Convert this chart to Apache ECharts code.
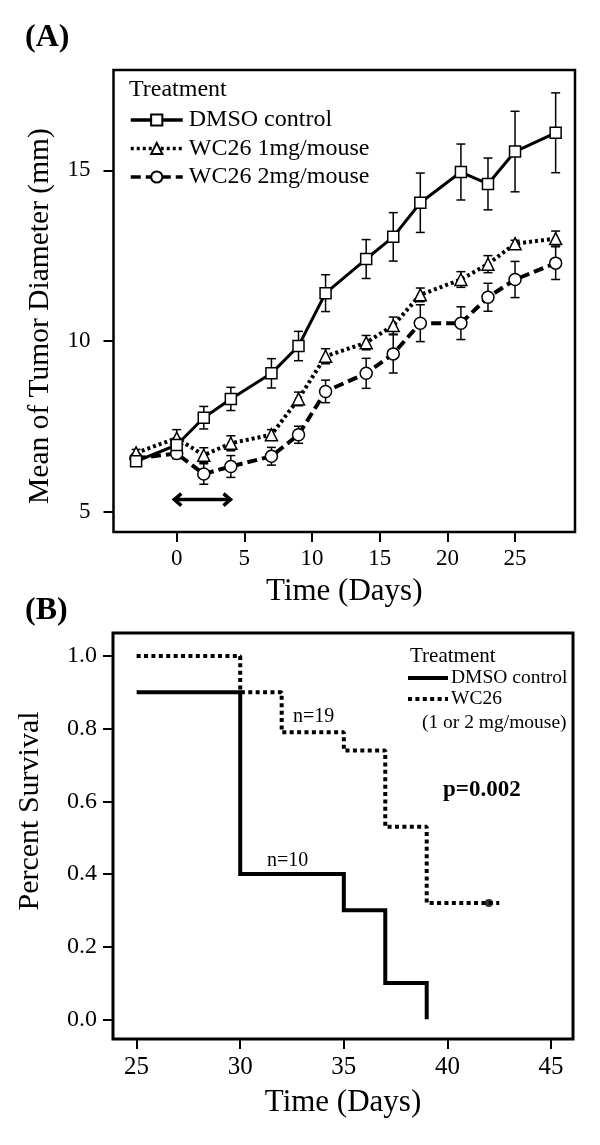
<!DOCTYPE html>
<html>
<head>
<meta charset="utf-8">
<script src="https://cdn.jsdelivr.net/npm/echarts@6/dist/echarts.min.js"></script>
<style>
  html, body { margin: 0; padding: 0; background: #fff; }
  #chart { width: 600px; height: 1145px; }
</style>
</head>
<body>
<div id="chart"></div>
<script>
// (A) tumour diameter, mean and error per measuring day
const days = [-3, 0, 2, 4, 7, 9, 11, 14, 16, 18, 21, 23, 25, 28]
const dmsoMean = [6.47, 6.95, 7.75, 8.3, 9.05, 9.85, 11.4, 12.4, 13.05, 14.05, 14.95, 14.6, 15.55, 16.1]
const dmsoErr = [0.1, 0.2, 0.33, 0.34, 0.43, 0.43, 0.54, 0.57, 0.71, 0.87, 0.82, 0.76, 1.18, 1.17]
const wc1Mean = [6.72, 7.15, 6.65, 7.0, 7.25, 8.3, 9.55, 9.95, 10.45, 11.35, 11.8, 12.25, 12.85, 13.0]
const wc1Err = [0.1, 0.25, 0.22, 0.22, 0.15, 0.2, 0.22, 0.21, 0.25, 0.2, 0.23, 0.25, 0.1, 0.22]
const wc2Mean = [6.56, 6.7, 6.1, 6.32, 6.62, 7.25, 8.52, 9.05, 9.62, 10.52, 10.52, 11.28, 11.8, 12.28]
const wc2Err = [0.1, 0.15, 0.3, 0.32, 0.26, 0.25, 0.33, 0.44, 0.56, 0.54, 0.48, 0.41, 0.53, 0.48]
const treatArrow = [-0.25, 4.05, 5.35] // start day, end day, height
const xTicksA = [0, 5, 10, 15, 20, 25]
const yTicksA = [5, 10, 15]

// (B) survival steps
const survDaysDmso = [25, 30, 35, 37, 39]
const survDmso = [0.9, 0.4, 0.3, 0.1, 0.0]
const survDaysWc = [25, 30, 32, 35, 37, 39, 42.5]
const survWc = [1.0, 0.9, 0.79, 0.74, 0.53, 0.32, 0.32]
const censorWc = [[42, 0.32]]
const xTicksB = [25, 30, 35, 40, 45]
const yTicksB = [0.0, 0.2, 0.4, 0.6, 0.8, 1.0]

const FONT = 'Liberation Serif'
const chart = echarts.init(document.getElementById('chart'), null, { renderer: 'canvas' })

function pairs (xs, ys) {
  return xs.map((x, i) => [x, ys[i]])
}
function bars (mean, err) {
  return days.map((d, i) => [d, mean[i] - err[i], mean[i] + err[i]])
}

// 误差线：竖线 + 上下短横
function errorBarItem (params, api) {
  const x = api.value(0)
  const lo = api.coord([x, api.value(1)])
  const hi = api.coord([x, api.value(2)])
  const w = 4.5
  const st = { stroke: '#000', lineWidth: 1.5 }
  return {
    type: 'group',
    children: [
      { type: 'line', shape: { x1: lo[0], y1: lo[1], x2: hi[0], y2: hi[1] }, style: st },
      { type: 'line', shape: { x1: lo[0] - w, y1: lo[1], x2: lo[0] + w, y2: lo[1] }, style: st },
      { type: 'line', shape: { x1: hi[0] - w, y1: hi[1], x2: hi[0] + w, y2: hi[1] }, style: st }
    ]
  }
}

function arrowItem (params, api) {
  const a = api.coord([api.value(0), api.value(2)])
  const b = api.coord([api.value(1), api.value(2)])
  const st = { stroke: '#000', lineWidth: 3.5, fill: null, lineJoin: 'miter' }
  return {
    type: 'group',
    children: [
      { type: 'line', shape: { x1: a[0] + 1, y1: a[1], x2: b[0] - 1, y2: b[1] }, style: st },
      { type: 'polyline', shape: { points: [[a[0] + 8, a[1] - 6], [a[0] + 1, a[1]], [a[0] + 8, a[1] + 6]] }, style: st },
      { type: 'polyline', shape: { points: [[b[0] - 8, b[1] - 6], [b[0] - 1, b[1]], [b[0] - 8, b[1] + 6]] }, style: st }
    ]
  }
}

const tickStyle = { show: true, length: 10, inside: false, lineStyle: { color: '#000', width: 2 } }
const hiddenLine = { show: false, onZero: false }
const markerStyle = { color: '#fff', borderColor: '#000', borderWidth: 1.5 }

const options = {
  animation: false,
  backgroundColor: '#fff',
  textStyle: { fontFamily: FONT, color: '#000' },
  grid: [
    { left: 113.5, right: 25, top: 70, bottom: 613, show: true, borderColor: '#000', borderWidth: 2.5, backgroundColor: 'transparent' },
    { left: 113, right: 27, top: 633, bottom: 106, show: true, borderColor: '#000', borderWidth: 3, backgroundColor: 'transparent' }
  ],
  xAxis: [
    {
      type: 'value', gridIndex: 0, min: -4.67, max: 29.43,
      axisLine: hiddenLine, splitLine: { show: false },
      axisTick: Object.assign({ customValues: xTicksA }, tickStyle),
      axisLabel: { customValues: xTicksA, fontFamily: FONT, fontSize: 23, color: '#000', margin: 15 },
      name: 'Time (Days)', nameLocation: 'middle', nameGap: 44,
      nameTextStyle: { fontFamily: FONT, fontSize: 31, color: '#000' }
    },
    {
      type: 'value', gridIndex: 1, min: 23.86, max: 46.06,
      axisLine: hiddenLine, splitLine: { show: false },
      axisTick: Object.assign({ customValues: xTicksB }, tickStyle),
      axisLabel: { customValues: xTicksB, fontFamily: FONT, fontSize: 25, color: '#000', margin: 16 },
      name: 'Time (Days)', nameLocation: 'middle', nameGap: 48,
      nameTextStyle: { fontFamily: FONT, fontSize: 31, color: '#000' }
    }
  ],
  yAxis: [
    {
      type: 'value', gridIndex: 0, min: 4.4, max: 17.94,
      axisLine: hiddenLine, splitLine: { show: false },
      axisTick: Object.assign({ customValues: yTicksA }, tickStyle),
      axisLabel: { customValues: yTicksA, fontFamily: FONT, fontSize: 23, color: '#000', margin: 23 },
      name: 'Mean of Tumor Diameter (mm)', nameLocation: 'middle', nameGap: 58,
      nameTextStyle: { fontFamily: FONT, fontSize: 29.5, color: '#000', padding: [0, 30, 0, 0] }
    },
    {
      type: 'value', gridIndex: 1, min: -0.054, max: 1.063,
      axisLine: hiddenLine, splitLine: { show: false },
      axisTick: Object.assign({ customValues: yTicksB }, tickStyle),
      axisLabel: {
        customValues: yTicksB, fontFamily: FONT, fontSize: 24, color: '#000', margin: 16,
        formatter: v => v.toFixed(1)
      },
      name: 'Percent Survival', nameLocation: 'middle', nameGap: 68,
      nameTextStyle: { fontFamily: FONT, fontSize: 30, color: '#000', padding: [0, 0, 0, 50] }
    }
  ],
  legend: [
    {
      orient: 'vertical', left: 124, top: 103, itemWidth: 52, itemHeight: 14, itemGap: 4.5,
      lineStyle: { width: 3.5 },
      textStyle: { fontFamily: FONT, fontSize: 24, color: '#000', padding: [0, 0, 0, 1] },
      data: ['DMSO control', 'WC26 1mg/mouse', 'WC26 2mg/mouse']
    },
    {
      orient: 'vertical', left: 401, top: 663, itemWidth: 40, itemHeight: 10, itemGap: 1,
      lineStyle: { width: 4 }, itemStyle: { opacity: 0 },
      textStyle: { fontFamily: FONT, fontSize: 19.5, color: '#000', padding: [0, 0, 0, -2] },
      data: ['DMSO control ', 'WC26']
    }
  ],
  graphic: [
    { type: 'text', left: 25, top: 22, style: { text: '(A)', font: 'bold 32px "Liberation Serif"', fill: '#000' } },
    { type: 'text', left: 25, top: 595, style: { text: '(B)', font: 'bold 32px "Liberation Serif"', fill: '#000' } },
    { type: 'text', left: 129, top: 78, style: { text: 'Treatment', font: '24px "Liberation Serif"', fill: '#000' } },
    { type: 'text', left: 410, top: 646, style: { text: 'Treatment', font: '21px "Liberation Serif"', fill: '#000' } },
    { type: 'text', left: 422, top: 713, style: { text: '(1 or 2 mg/mouse)', font: '19.5px "Liberation Serif"', fill: '#000' } },
    { type: 'text', left: 293, top: 707, style: { text: 'n=19', font: '20px "Liberation Serif"', fill: '#000' } },
    { type: 'text', left: 267, top: 851, style: { text: 'n=10', font: '20px "Liberation Serif"', fill: '#000' } },
    { type: 'text', left: 443, top: 779, style: { text: 'p=0.002', font: 'bold 23px "Liberation Serif"', fill: '#000' } }
  ],
  series: [
    { type: 'custom', name: 'errDmso', xAxisIndex: 0, yAxisIndex: 0, renderItem: errorBarItem, data: bars(dmsoMean, dmsoErr), z: 1 },
    { type: 'custom', name: 'errWc1', xAxisIndex: 0, yAxisIndex: 0, renderItem: errorBarItem, data: bars(wc1Mean, wc1Err), z: 1 },
    { type: 'custom', name: 'errWc2', xAxisIndex: 0, yAxisIndex: 0, renderItem: errorBarItem, data: bars(wc2Mean, wc2Err), z: 1 },
    { type: 'custom', name: 'arrow', xAxisIndex: 0, yAxisIndex: 0, renderItem: arrowItem, data: [treatArrow], z: 1 },
    {
      type: 'line', name: 'WC26 2mg/mouse', xAxisIndex: 0, yAxisIndex: 0, data: pairs(days, wc2Mean),
      symbol: 'circle', symbolSize: 12, itemStyle: markerStyle,
      lineStyle: { color: '#000', width: 4, type: [10, 5] }, z: 3
    },
    {
      type: 'line', name: 'WC26 1mg/mouse', xAxisIndex: 0, yAxisIndex: 0, data: pairs(days, wc1Mean),
      symbol: 'triangle', symbolSize: 12, itemStyle: markerStyle,
      lineStyle: { color: '#000', width: 4, type: [3, 3] }, z: 3
    },
    {
      type: 'line', name: 'DMSO control', xAxisIndex: 0, yAxisIndex: 0, data: pairs(days, dmsoMean),
      symbol: 'rect', symbolSize: 11, itemStyle: markerStyle,
      lineStyle: { color: '#000', width: 3 }, z: 4
    },
    {
      type: 'line', name: 'DMSO control ', xAxisIndex: 1, yAxisIndex: 1, data: pairs(survDaysDmso, survDmso),
      step: 'end', symbol: 'none', itemStyle: { color: '#000' },
      lineStyle: { color: '#000', width: 4, join: 'miter' }
    },
    {
      type: 'line', name: 'WC26', xAxisIndex: 1, yAxisIndex: 1, data: pairs(survDaysWc, survWc),
      step: 'end', symbol: 'none', itemStyle: { color: '#000' },
      lineStyle: { color: '#000', width: 4, type: [4, 3.4] }
    },
    {
      type: 'scatter', name: 'censor', xAxisIndex: 1, yAxisIndex: 1, data: censorWc,
      symbol: 'circle', symbolSize: 8, itemStyle: { color: '#000' }
    }
  ]
}
chart.setOption(options)
</script>
</body>
</html>
